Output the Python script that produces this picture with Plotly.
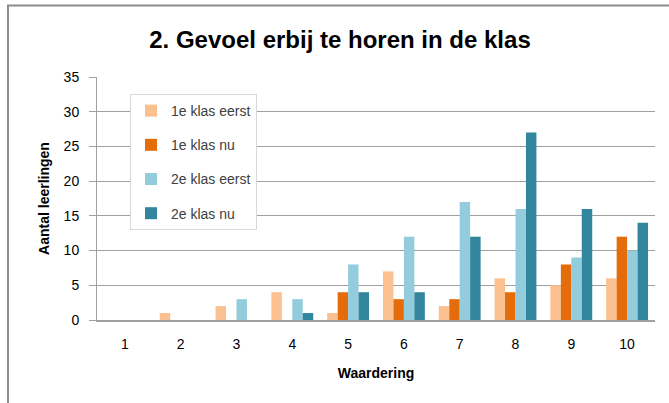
import plotly.graph_objects as go

categories = ["1", "2", "3", "4", "5", "6", "7", "8", "9", "10"]
series_names = ["1e klas eerst", "1e klas nu", "2e klas eerst", "2e klas nu"]
klas1_eerst = [0, 1, 2, 4, 1, 7, 2, 6, 5, 6]
klas1_nu = [0, 0, 0, 0, 4, 3, 3, 4, 8, 12]
klas2_eerst = [0, 0, 3, 3, 8, 12, 17, 16, 9, 10]
klas2_nu = [0, 0, 0, 1, 4, 4, 12, 27, 16, 14]
y_ticks = [0, 5, 10, 15, 20, 25, 30, 35]

colors = ["#FAC090", "#E46C0A", "#93CDDD", "#31859C"]
values = [klas1_eerst, klas1_nu, klas2_eerst, klas2_nu]

W, H = 669, 403
L, R, T, B = 97, 655, 77, 320  # plot area in pixels
pw, ph = R - L, B - T

fig = go.Figure()
for name, vals, col in zip(series_names, values, colors):
    fig.add_trace(go.Bar(x=categories, y=vals, name=name, marker_color=col,
                         marker_line_width=0, legendgroup=name))

font_family = "Liberation Sans, Arial, sans-serif"
fig.update_layout(
    width=W, height=H,
    margin=dict(l=L, r=W - R, t=T, b=H - B),
    paper_bgcolor="white", plot_bgcolor="white",
    barmode="group", bargap=0.25, bargroupgap=0,
    font=dict(family=font_family, size=13, color="#000000"),
    title=dict(text="<b>2. Gevoel erbij te horen in de klas</b>",
               xref="container", x=340 / W, xanchor="center",
               y=1 - 40 / H, yanchor="middle",
               font=dict(size=24, family=font_family, color="#000000")),
    legend=dict(x=(130 - L) / pw, y=(B - 94) / ph, xanchor="left", yanchor="top",
                bgcolor="white", bordercolor="#D9D9D9", borderwidth=1,
                font=dict(size=14, color="#404040"),
                traceorder="grouped", tracegroupgap=13,
                itemwidth=30),
    xaxis=dict(type="category", showgrid=False, showline=True,
               linecolor="#A0A0A0", linewidth=1.5, ticks="",
               ticklabelstandoff=10,
               tickfont=dict(size=14, color="#000000"),
               title=dict(text="<b>Waardering</b>", font=dict(size=14), standoff=18)),
    yaxis=dict(range=[0, 35], tickvals=y_ticks, showgrid=True,
               gridcolor="#A0A0A0", gridwidth=1, showline=True,
               linecolor="#A0A0A0", linewidth=1, ticks="outside",
               ticklen=7, tickcolor="#A0A0A0", ticklabelstandoff=7,
               tickfont=dict(size=14, color="#000000"),
               title=dict(text="<b>Aantal leerlingen</b>", font=dict(size=14), standoff=10)),
    shapes=[dict(type="rect", xref="paper", yref="paper",
                 x0=(8 - L) / pw, x1=(700 - L) / pw,
                 y0=(B - 450) / ph, y1=(B - 5.5) / ph,
                 line=dict(color="#8C8C8C", width=2), fillcolor="rgba(0,0,0,0)",
                 layer="below")],
)

fig.write_html("out.html", config={"displayModeBar": False},
               post_script="document.body.style.margin='0';")
